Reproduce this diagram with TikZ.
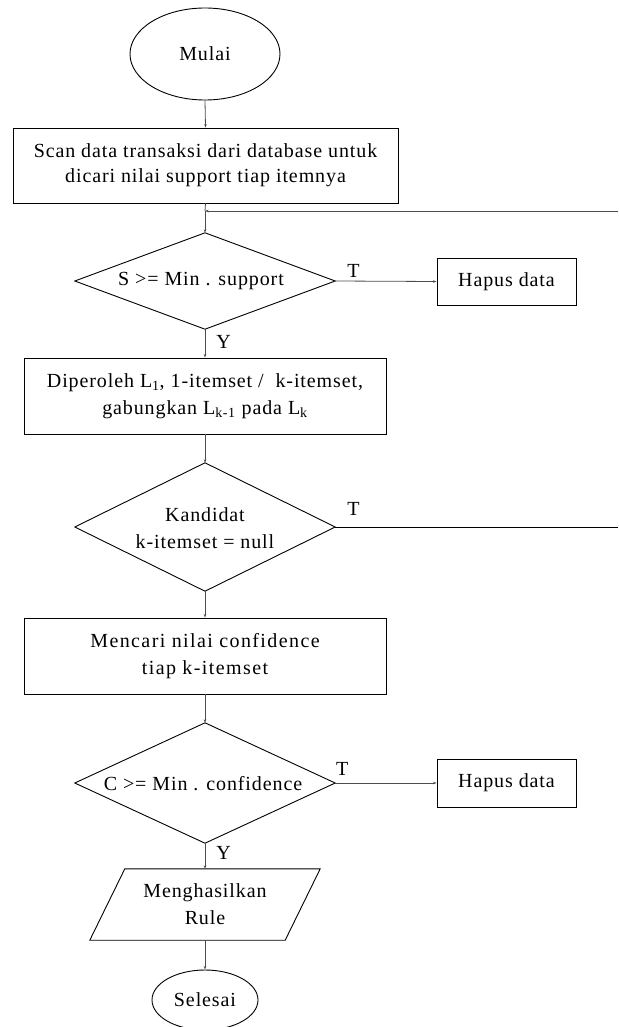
\documentclass[tikz,border=0pt]{standalone}
\usepackage{fontspec}
\setmainfont{Liberation Serif}[LetterSpace=4.5]
\usetikzlibrary{shapes.geometric,arrows.meta}
\begin{document}
\begin{tikzpicture}[x=1pt,y=-1pt,
  every node/.style={font=\fontsize{20}{27}\selectfont, align=center, inner sep=0pt},
  proc/.style={draw=black, line width=0.9pt, rectangle, minimum width=#1},
  term/.style={draw=black, line width=0.9pt, ellipse},
  hidden/.style={rectangle, minimum width=260, minimum height=#1},
  shapeline/.style={draw=black, line width=0.9pt},
  conn/.style={draw=black!70, line width=0.8pt, -{Stealth[length=3.5pt,width=2.5pt]}},
  plain/.style={draw=black!70, line width=0.8pt},
  lbl/.style={font=\fontsize{20}{24}\selectfont}
]
\useasboundingbox (0,0) rectangle (618,1027);

% Start
\node[term, minimum width=150, minimum height=92] (start) at (205,54) {Mulai};

% Box 1
\node[proc=385, minimum height=75, font=\fontsize{20}{25}\selectfont] (scan) at (205.5,165.5)
  {Scan data transaksi dari database untuk\\dicari nilai support tiap itemnya};

% Diamond 1
\node[hidden=96] (d1) at (205,281) {};
\draw[shapeline] (d1.north) -- (d1.east) -- (d1.south) -- (d1.west) -- cycle;
\node at (201,281) {S >= Min . support};

% Hapus data 1
\node[proc=139, minimum height=47] (hap1) at (506.5,281.5) {Hapus data};

% Box 2
\node[proc=362, minimum height=76] (gen) at (205,396)
  {Diperoleh L\textsubscript{1}, 1-itemset /\ \ k-itemset,\\gabungkan L\textsubscript{k-1} pada L\textsubscript{k}};

% Diamond 2
\node[hidden=128] (d2) at (205,527) {};
\draw[shapeline] (d2.north) -- (d2.east) -- (d2.south) -- (d2.west) -- cycle;
\node at (205,528) {Kandidat\\k-itemset = null};

% Box 3
\node[proc=362, minimum height=76, font=\fontsize{20}{27}\selectfont\addfontfeature{LetterSpace=7}] (conf) at (205,656)
  {Mencari nilai confidence\\tiap k-itemset};

% Diamond 3
\node[hidden=120] (d3) at (205,783) {};
\draw[shapeline] (d3.north) -- (d3.east) -- (d3.south) -- (d3.west) -- cycle;
\node at (203,784) {C >= Min . confidence};

% Hapus data 2
\node[proc=139, minimum height=48] (hap2) at (506.5,783) {Hapus data};

% Parallelogram output
\node[rectangle, minimum width=195, minimum height=71] (rule) at (205,904.5) {Menghasilkan\\Rule};
\draw[shapeline] ([xshift=17.5pt]rule.north west) -- ([xshift=17.5pt]rule.north east)
  -- ([xshift=-17.5pt]rule.south east) -- ([xshift=-17.5pt]rule.south west) -- cycle;

% End
\node[term, minimum width=106, minimum height=60] (end) at (205,1000) {Selesai};

% Connectors
\draw[conn] (start.south) -- (scan.north);
\coordinate (fb) at (205,211);
\coordinate (fbR) at (618,211);
\draw[plain] (scan.south) -- (fb);
\draw[conn] (fb) -- (d1.north);
\draw[conn] (fbR) -- (fb);
\draw[conn] (d1.east) -- node[lbl, pos=0.18, above=3pt]{T} (hap1.west);
\draw[conn] (d1.south) -- node[lbl, right=11pt, pos=0.45]{Y} (gen.north);
\draw[conn] (gen.south) -- (d2.north);
\coordinate (d2R) at (618,527);
\draw[plain, draw=black] (d2.east) -- node[lbl, pos=0.065, above=11pt]{T} (d2R);
\draw[conn] (d2.south) -- (conf.north);
\draw[conn] (conf.south) -- (d3.north);
\draw[conn] (d3.east) -- node[lbl, pos=0.07, above=7pt]{T} (hap2.west);
\draw[conn] (d3.south) -- node[lbl, right=11pt, pos=0.40]{Y} (rule.north);
\draw[conn] (rule.south) -- (end.north);
\end{tikzpicture}
\end{document}
